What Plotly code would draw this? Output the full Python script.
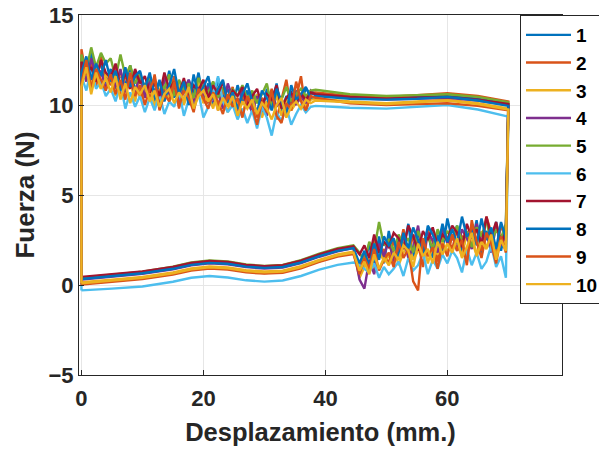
import plotly.graph_objects as go

# ---- data ----
names = ["1", "2", "3", "4", "5", "6", "7", "8", "9", "10"]
colors = ["#0072BD", "#D95319", "#EDB120", "#7E2F8E", "#77AC30",
          "#4DBEEE", "#A2142F", "#0072BD", "#D95319", "#EDB120"]

# forward stroke, noisy part (mm)
x_up_noisy = [0.0, 0.8, 1.6, 2.4, 3.2, 4.0, 4.8, 5.6, 6.4, 7.2, 8.0, 8.8, 9.6,
              10.4, 11.2, 12.0, 12.8, 13.6, 14.4, 15.2, 16.0, 16.8, 17.6, 18.4, 19.2, 20.0,
              20.8, 21.6, 22.4, 23.2, 24.0, 24.8, 25.6, 26.4, 27.2,
              28.0, 28.8, 29.6, 30.4, 31.2, 32.0, 32.8, 33.6, 34.4, 35.2,
              36.0, 36.8, 37.6]
# forward stroke, smooth part
x_up_smooth = [38.4, 44.0, 50.0, 55.0, 60.0, 65.0, 70.0]
# return stroke, noisy part
x_lo_noisy = [69.6, 68.8, 68.0, 67.2, 66.4, 65.6, 64.8, 64.0, 63.2, 62.4, 61.6, 60.8, 60.0,
              59.2, 58.4, 57.6, 56.8, 56.0, 55.2, 54.4, 53.6, 52.8, 52.0, 51.2, 50.4,
              49.6, 48.8, 48.0, 47.2, 46.4, 45.6]
# return stroke, smooth part
x_lo_smooth = [44.6, 42.0, 39.0, 36.0, 33.0, 30.0, 27.0, 24.0, 21.0, 18.0, 15.0, 10.0, 5.0, 0.0]

up_noisy = [
    [12.6, 11.4, 12.9, 11.8, 12.3, 11.2, 12.0, 10.9, 11.7, 11.1, 12.2, 10.8, 11.5,
     10.5, 11.6, 10.2, 11.3, 10.7, 11.9, 10.4, 11.0, 10.1, 11.4, 10.6, 11.8, 10.3,
     11.2, 10.0, 11.5, 10.4, 10.9, 9.9, 11.1, 10.2, 10.8,
     9.7, 10.6, 9.5, 10.9, 10.0, 11.2, 9.6, 10.5, 10.1, 10.8, 10.2, 10.9, 10.6],
    [13.1, 11.6, 12.4, 11.0, 12.7, 11.5, 11.1, 12.1, 10.6, 11.7, 10.9, 11.9, 10.4,
     11.2, 10.3, 11.7, 10.0, 11.0, 10.5, 11.6, 9.8, 11.2, 10.7, 10.1, 11.5, 10.4,
     10.1, 11.3, 9.7, 10.8, 10.3, 11.0, 9.4, 10.6, 10.0,
     10.7, 9.3, 10.4, 9.9, 10.9, 9.2, 10.3, 11.4, 9.7, 10.4, 11.6, 9.6, 10.7],
    [11.5, 12.3, 11.1, 12.0, 10.9, 11.7, 11.4, 10.5, 11.9, 10.8, 11.3, 10.2, 11.6,
     10.6, 11.1, 9.9, 10.8, 11.4, 10.2, 10.7, 11.2, 10.0, 10.9, 10.4, 11.3, 10.1,
     10.5, 9.8, 11.0, 10.3, 9.6, 10.7, 10.1, 9.5, 10.4,
     10.0, 10.6, 9.3, 10.2, 9.8, 10.5, 9.4, 10.3, 9.7, 10.1, 10.4, 10.0, 10.3],
    [12.2, 11.3, 12.6, 11.6, 11.9, 10.9, 11.8, 11.0, 12.0, 10.7, 11.4, 10.6, 11.8,
     10.4, 11.3, 10.8, 9.9, 11.5, 10.6, 11.1, 10.2, 10.9, 11.4, 10.0, 11.0, 10.5,
     11.0, 10.2, 10.7, 9.8, 11.2, 10.4, 9.7, 10.8, 10.2,
     9.6, 10.5, 10.0, 9.4, 10.7, 9.9, 10.4, 9.5, 10.6, 10.0, 10.5, 10.1, 10.8],
    [12.8, 11.9, 13.2, 12.1, 12.9, 12.3, 12.6, 11.5, 12.8, 11.6, 12.2, 11.2, 11.7,
     11.0, 11.6, 10.6, 11.3, 10.9, 11.7, 10.5, 11.4, 10.8, 11.2, 10.4, 11.5, 10.9,
     10.7, 11.3, 10.4, 11.0, 10.2, 10.9, 10.5, 11.1, 10.3,
     10.8, 10.1, 10.6, 11.2, 9.9, 10.7, 10.3, 11.0, 10.2, 10.6, 10.9, 10.5, 10.8],
    [11.6, 10.8, 12.0, 10.9, 11.3, 10.5, 10.9, 10.2, 11.2, 9.8, 10.7, 9.9, 10.5,
     9.6, 10.4, 9.7, 10.6, 9.5, 10.2, 9.9, 10.8, 9.4, 10.3, 9.8, 10.7, 9.3,
     9.9, 10.5, 11.6, 10.2, 9.6, 10.0, 9.2, 9.8, 9.0,
     9.7, 8.7, 9.9, 9.3, 8.3, 9.6, 9.1, 9.9, 8.9, 9.5, 10.0, 9.6, 9.9],
    [12.4, 11.7, 12.1, 11.3, 12.5, 11.8, 11.5, 12.3, 11.0, 11.8, 10.9, 12.0, 11.2,
     11.6, 10.7, 11.2, 10.5, 11.8, 10.9, 11.3, 10.6, 11.5, 10.3, 11.1, 10.8, 11.4,
     10.4, 11.1, 10.6, 11.3, 10.2, 10.8, 10.5, 11.0, 9.9,
     10.5, 10.9, 10.0, 10.6, 10.3, 11.1, 9.8, 10.4, 10.7, 10.2, 10.6, 10.3, 10.7],
    [11.8, 12.7, 11.4, 12.3, 11.6, 12.5, 11.3, 11.9, 10.8, 12.1, 11.0, 11.6, 11.9,
     10.9, 11.8, 10.5, 11.4, 10.2, 11.1, 12.0, 10.6, 11.3, 10.0, 11.7, 10.5, 11.0,
     11.6, 10.3, 10.9, 11.4, 10.1, 10.7, 9.8, 10.6, 11.2,
     10.2, 9.6, 10.8, 10.4, 9.7, 10.9, 10.2, 9.5, 11.1, 10.3, 10.6, 11.0, 10.4],
    [11.2, 12.5, 10.9, 12.0, 11.4, 10.8, 11.7, 10.6, 11.4, 10.3, 11.8, 10.5, 11.1,
     10.0, 10.9, 11.5, 9.7, 10.6, 10.2, 11.3, 9.9, 10.8, 10.4, 9.6, 10.9, 10.3,
     9.8, 10.7, 10.2, 9.5, 10.6, 9.9, 10.4, 9.3, 10.5,
     9.9, 8.9, 10.2, 9.6, 10.8, 9.4, 9.0, 10.1, 9.7, 11.3, 10.2, 9.7, 10.5],
    [11.0, 12.1, 10.6, 11.8, 10.9, 11.5, 10.7, 11.6, 10.3, 11.2, 10.1, 11.0, 10.6,
     11.1, 10.2, 10.8, 9.9, 10.6, 10.9, 10.1, 10.7, 10.3, 11.0, 9.8, 10.5, 10.8,
     10.2, 10.6, 9.7, 10.4, 9.9, 10.5, 9.4, 10.2, 9.8,
     10.3, 9.5, 10.1, 9.8, 9.2, 10.0, 10.4, 9.3, 9.9, 10.2, 9.8, 10.3, 10.1],
]

up_smooth = [
    [10.65, 10.45, 10.35, 10.45, 10.50, 10.35, 10.05],
    [10.70, 10.50, 10.45, 10.55, 10.65, 10.50, 10.20],
    [10.35, 10.20, 10.10, 10.20, 10.30, 10.10, 9.80],
    [10.55, 10.40, 10.30, 10.35, 10.40, 10.25, 10.00],
    [10.85, 10.60, 10.50, 10.55, 10.60, 10.45, 10.15],
    [9.95, 9.85, 9.80, 9.90, 10.00, 9.75, 9.35],
    [10.60, 10.45, 10.35, 10.40, 10.45, 10.30, 10.05],
    [10.50, 10.35, 10.30, 10.35, 10.45, 10.25, 9.95],
    [10.40, 10.10, 10.00, 10.05, 10.10, 9.95, 9.70],
    [10.25, 10.15, 10.05, 10.15, 10.25, 10.05, 9.75],
]

lo_noisy = [
    [3.2, 1.9, 3.5, 2.4, 3.0, 1.7, 3.6, 2.2, 2.9, 1.8, 3.3, 2.5, 3.7,
     1.9, 2.8, 1.5, 3.1, 2.2, 2.9, 1.4, 3.4, 2.0, 2.6, 1.6, 3.0,
     1.2, 2.7, 0.9, 2.3, 1.1, 0.5],
    [2.4, 3.4, 1.6, 2.9, 3.8, 1.9, 2.5, 3.2, 1.3, 2.7, 3.1, 2.0, 2.6,
     2.9, 1.3, 2.4, 3.0, 1.0, 2.3, 2.8, 1.6, 3.1, 1.8, 2.5, 1.1,
     2.0, 1.5, 2.6, 0.8, 1.7, 1.0],
    [2.0, 2.8, 1.5, 2.6, 2.1, 3.0, 1.7, 2.4, 2.9, 1.6, 2.3, 2.7, 1.8,
     2.4, 1.7, 2.2, 1.2, 2.6, 1.9, 1.4, 2.3, 1.8, 1.1, 2.1, 1.6,
     1.3, 2.0, 0.7, 1.6, 1.0, 0.4],
    [2.8, 2.2, 3.3, 1.8, 2.9, 2.4, 3.4, 2.0, 2.6, 3.1, 1.9, 2.8, 2.3,
     3.2, 1.8, 2.5, 2.9, 1.6, 3.3, 2.1, 1.5, 2.7, 2.2, 1.3, 2.5,
     1.6, 2.3, 0.6, 1.4, -0.2, 0.3],
    [3.4, 2.6, 3.1, 2.3, 3.6, 2.7, 3.2, 2.1, 3.0, 2.4, 3.3, 2.6, 3.0,
     2.4, 3.1, 2.0, 2.7, 2.3, 3.0, 1.8, 2.6, 2.2, 2.8, 1.9, 2.5,
     2.2, 3.5, 1.9, 2.4, 1.3, 1.8],
    [0.4, 1.6, 1.0, 2.2, 1.3, 0.9, 1.8, 1.1, 2.0, 0.7, 1.5, 1.9, 1.2,
     1.7, 0.9, 1.4, 0.6, 1.8, 1.1, 0.8, 1.5, 0.5, 1.3, 0.9, 0.6,
     1.0, 0.4, 1.2, 0.7, 0.9, 1.1],
    [3.0, 2.3, 3.5, 2.7, 3.8, 2.2, 3.1, 2.6, 3.4, 2.1, 2.9, 3.3, 2.5,
     2.8, 2.2, 3.2, 2.5, 3.0, 1.9, 2.7, 3.3, 2.0, 2.6, 2.9, 2.1,
     2.4, 1.8, 2.8, 1.5, 2.2, 1.7],
    [2.6, 3.5, 2.0, 3.2, 2.5, 3.7, 2.2, 3.0, 2.7, 3.8, 2.3, 3.1, 2.4,
     3.4, 2.1, 2.8, 3.3, 1.7, 2.5, 3.2, 2.0, 2.9, 1.5, 2.6, 2.2,
     2.7, 1.4, 2.3, 1.0, 1.9, 1.2],
    [1.8, 2.7, 1.2, 2.3, 2.9, 1.5, 2.4, 3.6, 1.1, 2.5, 1.9, 2.8, 1.6,
     2.3, 0.9, 2.1, 1.6, 2.6, -0.3, 0.2, 2.0, 1.5, 2.4, 1.0, 1.8,
     1.4, 0.8, 2.0, 0.9, 1.5, 0.6],
    [1.9, 2.5, 1.4, 2.8, 2.0, 2.4, 1.6, 2.9, 2.1, 1.5, 2.6, 1.8, 2.3,
     1.7, 2.4, 1.2, 2.0, 1.6, 2.3, 1.0, 1.9, 2.2, 1.4, 1.8, 1.1,
     1.5, 0.9, 1.7, 0.6, 1.3, 0.8],
]

lo_smooth = [
    [2.10, 1.94, 1.64, 1.29, 1.04, 0.99, 1.06, 1.22, 1.27, 1.16, 0.94, 0.69, 0.53, 0.38],
    [1.78, 1.62, 1.32, 0.97, 0.72, 0.67, 0.74, 0.90, 0.95, 0.84, 0.62, 0.37, 0.22, 0.06],
    [1.85, 1.70, 1.40, 1.05, 0.80, 0.75, 0.82, 0.98, 1.03, 0.92, 0.70, 0.45, 0.30, 0.15],
    [2.05, 1.87, 1.57, 1.22, 0.97, 0.92, 0.99, 1.15, 1.20, 1.09, 0.87, 0.62, 0.46, 0.30],
    [2.20, 2.04, 1.74, 1.38, 1.12, 1.06, 1.14, 1.31, 1.37, 1.26, 1.02, 0.74, 0.57, 0.40],
    [1.25, 1.12, 0.85, 0.50, 0.25, 0.19, 0.26, 0.42, 0.50, 0.40, 0.18, -0.08, -0.20, -0.30],
    [2.15, 2.00, 1.70, 1.35, 1.10, 1.05, 1.12, 1.28, 1.33, 1.22, 1.00, 0.75, 0.60, 0.45],
    [2.05, 1.90, 1.60, 1.25, 1.00, 0.95, 1.02, 1.18, 1.23, 1.12, 0.90, 0.65, 0.50, 0.33],
    [1.72, 1.58, 1.28, 0.93, 0.68, 0.63, 0.70, 0.86, 0.91, 0.80, 0.58, 0.33, 0.18, 0.02],
    [1.80, 1.65, 1.35, 1.00, 0.75, 0.70, 0.77, 0.93, 0.98, 0.87, 0.65, 0.40, 0.25, 0.10],
]

x_ticks = [0, 20, 40, 60]
y_ticks = [-5, 0, 5, 10, 15]

# ---- figure ----
FONT = "Liberation Sans, Arial, sans-serif"
INK = "#262626"

fig = go.Figure()
for i, name in enumerate(names):
    # loop: start at the end of the return stroke (x=0), go up, forward, down, back
    xs = [x_lo_smooth[-1]] + x_up_noisy + x_up_smooth + x_lo_noisy + x_lo_smooth
    ys = [lo_smooth[i][-1]] + up_noisy[i] + up_smooth[i] + lo_noisy[i] + lo_smooth[i]
    fig.add_trace(go.Scatter(
        x=xs, y=ys, mode="lines", name=name,
        line=dict(color=colors[i], width=2.4),
    ))

axis_common = dict(
    showgrid=True, gridcolor="#e6e6e6", gridwidth=1,
    showline=True, linecolor=INK, linewidth=1, mirror=True,
    ticks="inside", ticklen=5, tickcolor=INK,
    tickfont=dict(family=FONT, size=22, color=INK, weight="bold"),
    zeroline=False, ticklabeloverflow="allow",
)

fig.update_layout(
    width=599, height=450,
    margin=dict(l=79, r=37, t=15, b=75, autoexpand=False),
    paper_bgcolor="white", plot_bgcolor="white",
    xaxis=dict(range=[-0.4, 78.8], tickvals=x_ticks, ticklabelstandoff=4,
               title=dict(text="Desplazamiento (mm.)",
                          font=dict(family=FONT, size=25.5, color=INK, weight="bold"),
                          standoff=12),
               **axis_common),
    yaxis=dict(range=[-5, 15], tickvals=y_ticks,
               title=dict(text="Fuerza (N)",
                          font=dict(family=FONT, size=26, color=INK, weight="bold"),
                          standoff=6),
               **axis_common),
    legend=dict(
        x=(520 - 79) / 483, y=1.0, xanchor="left", yanchor="top",
        bgcolor="white", bordercolor=INK, borderwidth=1,
        font=dict(family=FONT, size=19, color="black", weight="bold"),
        itemwidth=45, maxheight=440,
    ),
    showlegend=True,
)

# remove the default page margin so the figure sits at the window's corner
fig.write_html("out.html", config={"displayModeBar": False},
               post_script="document.body.style.margin='0';")
